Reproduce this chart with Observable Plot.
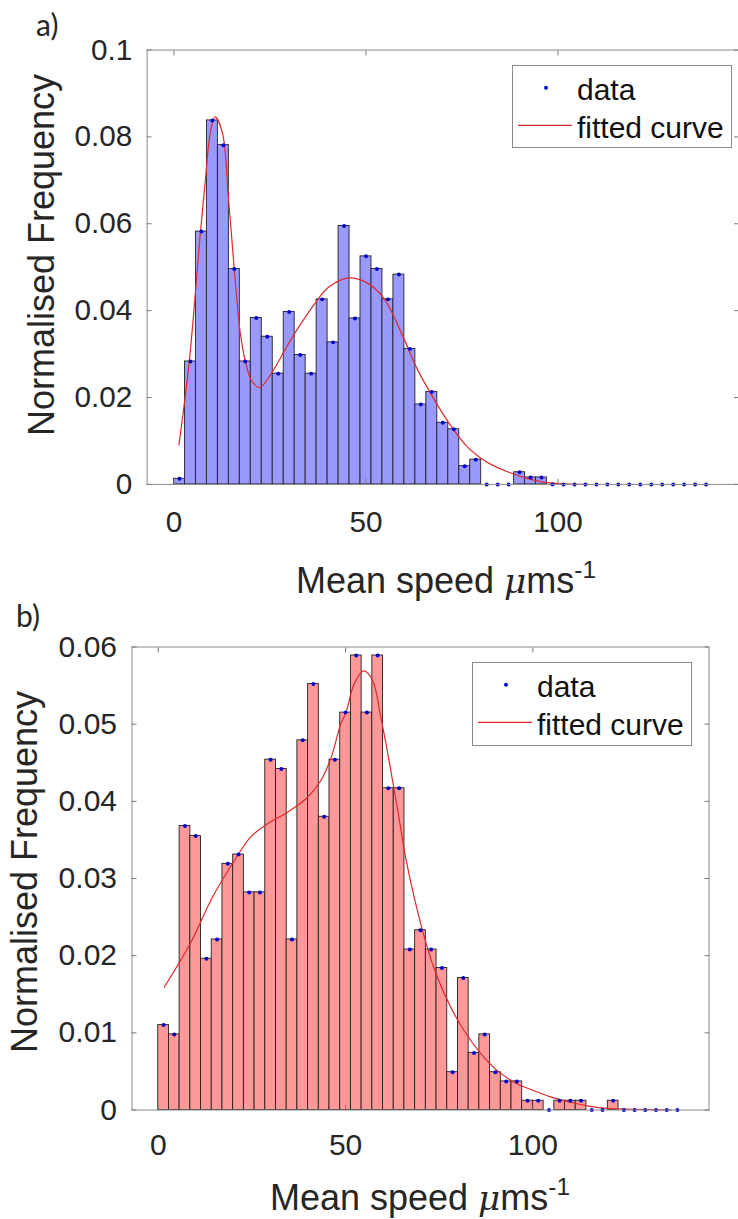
<!DOCTYPE html>
<html><head><meta charset="utf-8">
<script src="https://cdn.jsdelivr.net/npm/d3@7"></script>
<script src="https://cdn.jsdelivr.net/npm/@observablehq/plot@0.6"></script>
<style>
html,body{margin:0;padding:0;background:#fff;overflow:hidden;}
#wrap{position:relative;width:738px;height:1219px;overflow:hidden;font-family:"Liberation Sans",Arial,sans-serif;color:#262626;}
.abs{position:absolute;white-space:nowrap;line-height:1;}
</style></head><body><div id="wrap"></div>
<script>
// ---- data ----
const binCenters = [1.43,4.29,7.14,10.00,12.86,15.71,18.57,21.43,24.29,27.14,30.00,32.86,35.71,38.57,41.43,44.29,47.14,50.00,52.86,55.71,58.57,61.43,64.29,67.14,70.00,72.86,75.71,78.57,81.43,84.29,87.14,90.00,92.86,95.71,98.57,101.43,104.29,107.14,110.00,112.86,115.71,118.57,121.43,124.29,127.14,130.00,132.86,135.71,138.57];
const binWidth = 2.857;
const freqA = [0.0013,0.0283,0.0582,0.0838,0.0781,0.0496,0.0283,0.0383,0.0340,0.0255,0.0397,0.0298,0.0255,0.0426,0.0327,0.0595,0.0382,0.0525,0.0496,0.0426,0.0483,0.0312,0.0184,0.0213,0.0142,0.0127,0.0042,0.0057,0,0,0,0.0028,0.0016,0.0016,0,0,0,0,0,0,0,0,0,0,0,0,0,0,0];
const freqB = [0.0110,0.0098,0.0368,0.0355,0.0196,0.0221,0.0319,0.0331,0.0282,0.0282,0.0454,0.0442,0.0221,0.0479,0.0552,0.0380,0.0454,0.0515,0.0589,0.0515,0.0589,0.0417,0.0417,0.0208,0.0233,0.0208,0.0184,0.0049,0.0171,0.0074,0.0098,0.0049,0.0037,0.0037,0.0012,0.0012,0,0.0012,0.0012,0.0012,0,0,0.0012,0,0,0,0,0,0];
const fitAx = [1.3,4.0,6.9,8.2,9.45,10.7,12.6,14.2,15.7,17.2,18.6,20.2,22.3,25.8,28.8,31.8,37.4,40.0,45.1,50.3,54.6,60.1,63.1,67.4,71.7,76.0,80.3,82.8,87.2,91.5,95.8,100,108];
const fitAy = [0.0091,0.0285,0.0582,0.0703,0.0810,0.0846,0.0810,0.0657,0.0496,0.0353,0.0283,0.0239,0.0223,0.0262,0.0308,0.0353,0.0425,0.0452,0.0475,0.0464,0.0429,0.0331,0.0270,0.0201,0.0140,0.0090,0.0058,0.0045,0.0028,0.0015,0.0006,0.0002,0];
const fitBx = [1.6,8.7,14.5,20.3,24.7,29.2,34.5,39.8,43.4,46.1,48.7,50.1,52.3,54.8,57.2,59.4,61.6,63.8,66.0,68.3,71.8,74.5,78.1,81.6,86.1,90.5,95.8,100.3,104.7,110,115,120,127,137];
const fitBy = [0.0159,0.0217,0.0276,0.0323,0.0354,0.0371,0.0386,0.0405,0.0427,0.0456,0.0500,0.0515,0.0552,0.0569,0.0557,0.0509,0.0453,0.0392,0.0328,0.0276,0.0211,0.0172,0.0133,0.0103,0.0073,0.0051,0.0034,0.0025,0.0017,0.0010,0.0005,0.0002,0.0001,0];
const xTicks = [0,50,100];
const yTicksA = [0,0.02,0.04,0.06,0.08,0.1];
const yTicksB = [0,0.01,0.02,0.03,0.04,0.05,0.06];
const legendLabels = ["data","fitted curve"];
const yTitle = "Normalised Frequency";

const FONT = "Liberation Sans, Arial, sans-serif";
const wrap = document.getElementById("wrap");

function panel({freq, fitX, fitY, fill, yTicks, yMax, width, height, mt, mb, ml, mr, xPad}) {
  const rows = binCenters.map((c, i) => ({x: c, x1: c - binWidth / 2, x2: c + binWidth / 2, y0: 0, y: freq[i]}));
  const fit = fitX.map((x, i) => ({x, y: fitY[i]}));
  const tickAxisOpts = {tickSize: 5, tickFormat: () => "", label: null, stroke: "#7a7a7a"};
  return Plot.plot({
    width, height, marginTop: mt, marginBottom: mb, marginLeft: ml, marginRight: mr,
    x: {domain: [-7, 147]},
    y: {domain: [0, yMax]},
    style: {fontFamily: FONT, background: "transparent", overflow: "visible"},
    marks: [
      Plot.rect(rows.filter(d => d.y > 0), {x1: "x1", x2: "x2", y1: "y0", y2: "y", fill, stroke: "#222", strokeWidth: 0.9}),
      Plot.line(fit, {x: "x", y: "y", stroke: "#e0282c", strokeWidth: 1.2, curve: "catmull-rom"}),
      Plot.dot(rows, {x: "x", y: "y", r: 2, fill: "#0000cc", stroke: null}),
      Plot.frame({stroke: "#8a8a8a"}),
      Plot.axisX({ticks: xTicks, anchor: "bottom", tickSize: 0, tickPadding: xPad, fontSize: 30, fontFamily: FONT, fill: "#262626", label: null}),
      Plot.axisY({ticks: yTicks, anchor: "left", tickSize: 0, tickPadding: 15, tickFormat: d => String(d), fontSize: 30, fontFamily: FONT, fill: "#262626", label: null}),
      Plot.axisX({ticks: xTicks, anchor: "bottom", dy: -5, ...tickAxisOpts}),
      Plot.axisX({ticks: xTicks, anchor: "top", dy: 5, ...tickAxisOpts}),
      Plot.axisY({ticks: yTicks, anchor: "left", dx: 5, ...tickAxisOpts}),
      Plot.axisY({ticks: yTicks, anchor: "right", dx: -5, ...tickAxisOpts})
    ]
  });
}

function place(el, left, top) {
  el.style.position = "absolute"; el.style.left = left + "px"; el.style.top = top + "px";
  wrap.appendChild(el);
}

function addText(html, left, top, size, family) {
  const d = document.createElement("div");
  d.className = "abs"; d.innerHTML = html;
  d.style.fontSize = size + "px";
  if (family) d.style.fontFamily = family;
  place(d, left, top);
  return d;
}

function addRotated(text, cx, cy, size) {
  const d = addText(text, cx, cy, size);
  d.style.transform = "translate(-50%,-50%) rotate(-90deg)";
  return d;
}

function addCentered(html, cx, baseline, size) {
  const d = addText(html, cx, baseline - 0.85 * size, size);
  d.style.transform = "translateX(-50%)";
  return d;
}

function addLegend(left, top, w, h) {
  const d = document.createElement("div");
  d.style.cssText = `box-sizing:border-box;width:${w}px;height:${h}px;border:1px solid #8a8a8a;background:#fff;`;
  d.innerHTML = `<svg width="${w - 2}" height="${h - 2}" style="display:block">
    <circle cx="33" cy="21.7" r="2" fill="#0000cc"/>
    <line x1="5" x2="59" y1="59.3" y2="59.3" stroke="#e0282c" stroke-width="1.2"/>
    <text x="64" y="34" font-size="30" font-family="${FONT}" fill="#111">${legendLabels[0]}</text>
    <text x="64" y="72.3" font-size="30" font-family="${FONT}" fill="#111">${legendLabels[1]}</text>
  </svg>`;
  place(d, left, top);
}

// Panel a
const pa = panel({freq: freqA, fitX: fitAx, fitY: fitAy, fill: "#9999ff", yTicks: yTicksA, yMax: 0.1,
  width: 745, height: 600, mt: 50, mb: 111.5, ml: 148, mr: 0, xPad: 27});
place(pa, 0, 0);
// Panel b
const pb = panel({freq: freqB, fitX: fitBx, fitY: fitBy, fill: "#ff9999", yTicks: yTicksB, yMax: 0.06,
  width: 738, height: 619, mt: 46.5, mb: 109.5, ml: 131.5, mr: 29.5, xPad: 24});
place(pb, 0, 600);

addLegend(511.7, 65, 220, 83);
addLegend(472.3, 661.7, 220, 84);

addText("a)", 36, 9, 30, "Lato, 'Open Sans', sans-serif");
addText("b)", 16, 600, 30, "Lato, 'Open Sans', sans-serif");

addRotated(yTitle, 42, 255, 36);
addRotated(yTitle, 25, 872, 36);

const xTitle = 'Mean speed <i style="font-family:\'DejaVu Serif\',serif;font-size:0.95em">μ</i>ms<sup style="font-size:0.68em;vertical-align:0.62em">-1</sup>';
addCentered(xTitle, 446, 589, 36);
addCentered(xTitle, 420, 1206, 36);
</script></body></html>
